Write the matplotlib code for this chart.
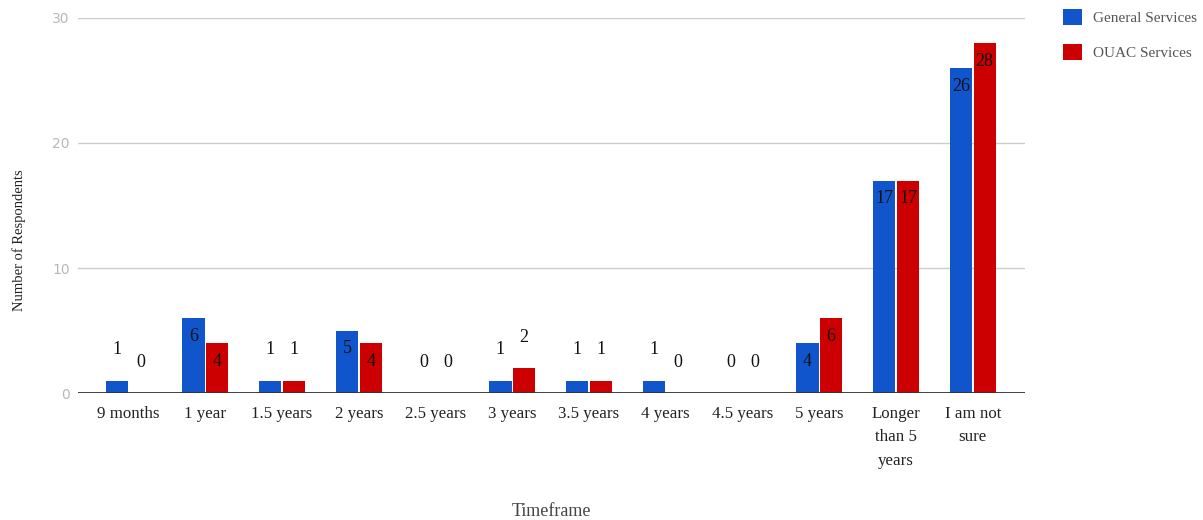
import numpy as np
import matplotlib.pyplot as plt

plt.rcParams['font.family'] = ['Liberation Serif', 'DejaVu Serif']

categories = ["9 months", "1 year", "1.5 years", "2 years", "2.5 years", "3 years",
              "3.5 years", "4 years", "4.5 years", "5 years",
              "Longer\nthan 5\nyears", "I am not\nsure"]
general = [1, 6, 1, 5, 0, 1, 1, 1, 0, 4, 17, 26]
ouac = [0, 4, 1, 4, 0, 2, 1, 0, 0, 6, 17, 28]

blue = "#1155cc"
red = "#cc0000"

fig = plt.figure(figsize=(12.03, 5.2), dpi=100)
ax = fig.add_axes([0.0648, 0.2442, 0.7872, 0.7212])

x = np.arange(len(categories))
w = 0.29
off = 0.155

def add_labels(xs, vals):
    # big bars get the value inside the top, small ones above it
    for xi, v in zip(xs, vals):
        dy = -13 if v >= 4 else 22
        ax.annotate(str(v), (xi, v), xytext=(0, dy), textcoords="offset points",
                    ha="center", va="center", fontsize=13, color="#111111")

ax.bar(x - off, general, width=w, color=blue, label="General Services", zorder=3)
ax.bar(x + off, ouac, width=w, color=red, label="OUAC Services", zorder=3)
add_labels(x - off, general)
add_labels(x + off, ouac)

ax.set_xlim(-0.66, 11.68)
ax.set_ylim(0, 30)
ax.set_yticks([0, 10, 20, 30])
ax.yaxis.grid(True, color="#cccccc", linewidth=1, zorder=0)
ax.axhline(0, color="#333333", linewidth=1.3, zorder=4)
for s in ax.spines.values():
    s.set_visible(False)

ax.set_xticks(x)
ax.set_xticklabels(categories, fontsize=12.2, color="#222222", linespacing=1.65)
ax.tick_params(axis="x", length=0, pad=9)
ax.tick_params(axis="y", length=0, pad=6, labelsize=10, labelcolor="#b7b7b7")
for lab in ax.get_yticklabels():
    lab.set_family(['DejaVu Sans'])

ax.set_ylabel("Number of Respondents", fontsize=10.5, color="#222222")
ax.yaxis.set_label_coords(-0.0545, 0.408)
ax.set_xlabel("Timeframe", fontsize=13, color="#444444", va="center")
ax.xaxis.set_label_coords(0.5, -0.315)

leg = fig.legend(loc="upper left", bbox_to_anchor=(0.872, 1.01), frameon=False,
                 fontsize=11, handlelength=1.25, handleheight=1.25, labelspacing=1.25,
                 handletextpad=0.75)
for t in leg.get_texts():
    t.set_color("#555555")

fig.savefig("out.png", dpi=100)
